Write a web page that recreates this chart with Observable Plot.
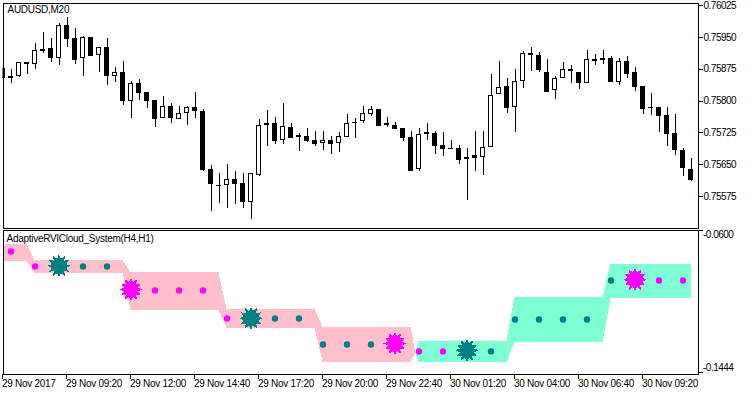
<!DOCTYPE html>
<html>
<head>
<meta charset="utf-8">
<script src="https://cdn.jsdelivr.net/npm/d3@7"></script>
<script src="https://cdn.jsdelivr.net/npm/@observablehq/plot@0.6"></script>
<style>
html,body{margin:0;padding:0;background:#fff;}
#chart{position:relative;width:750px;height:394px;overflow:hidden;}
#chart svg{position:absolute;left:0;display:block;}
#chart svg rect,#chart svg line,#chart svg path{shape-rendering:crispEdges;}
#chart svg text{letter-spacing:-.28px;}
#chart svg [aria-label="y-axis tick label"] text{letter-spacing:-.5px;}
</style>
</head>
<body>
<div id="chart"></div>
<script>
const opens=[.75874,.75852,.75859,.75888,.75885,.75919,.75921,.759,.75977,.75944,.759,.75947,.75907,.75923,.75859,.75866,.75798,.75838,.75817,.75798,.75758,.75784,.75757,.7577,.75782,.75772,.75635,.75599,.756,.75612,.75602,.7556,.75625,.75745,.75744,.75706,.75734,.75716,.75715,.75704,.75699,.75704,.75699,.75715,.75746,.75751,.75767,.75777,.75745,.75741,.75732,.75711,.75639,.75723,.75722,.75692,.75686,.75685,.75661,.75668,.75666,.75691,.75815,.75831,.75784,.75845,.75909,.75904,.75866,.75824,.75852,.75871,.75866,.75842,.75896,.75898,.75897,.75843,.7589,.75864,.75831,.75783,.75782,.75763,.7572,.75682,.75637];
const highs=[.75874,.75872,.75889,.75888,.75934,.7596,.75946,.75981,.75995,.75969,.7595,.75947,.75923,.75946,.75879,.75891,.75846,.75849,.75817,.75798,.75809,.75794,.75785,.75785,.75818,.75778,.75647,.75628,.75648,.75632,.75627,.75627,.75754,.75776,.75759,.75794,.75745,.75721,.75735,.75726,.75726,.75714,.75724,.75766,.75757,.75787,.75785,.75777,.75759,.75747,.75732,.75728,.75733,.75745,.75726,.75724,.75705,.75693,.75686,.75726,.75726,.75861,.75891,.75851,.75872,.75915,.75924,.75913,.75896,.75856,.75889,.75882,.75866,.75917,.75908,.75917,.75905,.75898,.75905,.75877,.75831,.75816,.75782,.75783,.75768,.75686,.75662];
const lows=[.75852,.75839,.75855,.75862,.75872,.75912,.7589,.75883,.75926,.75886,.75857,.75906,.75865,.75836,.75843,.75789,.75758,.75801,.7578,.75737,.75758,.75746,.75754,.7574,.75758,.75633,.75539,.75558,.75546,.75554,.75546,.75519,.75621,.75692,.75697,.75697,.75711,.7568,.75702,.75692,.75683,.75673,.75678,.75714,.75711,.75745,.75763,.75741,.75737,.75733,.75704,.75634,.75633,.75706,.75673,.75669,.75685,.7565,.75565,.75633,.75624,.75688,.75815,.7577,.75724,.75829,.75869,.75865,.75821,.75803,.75852,.75839,.75827,.75839,.75883,.75884,.75844,.75836,.75853,.75822,.75768,.75765,.75725,.75692,.75671,.75621,.7561];
const closes=[.75852,.75855,.75888,.75885,.75918,.75917,.75901,.75977,.75944,.75896,.75947,.75906,.75923,.75859,.75866,.758,.75838,.75818,.758,.75757,.75784,.75759,.75767,.75782,.75776,.75636,.75604,.75598,.75612,.75604,.7556,.75626,.75739,.75743,.75705,.75737,.75712,.75714,.75705,.75698,.75704,.75698,.75713,.75744,.75748,.75767,.75777,.75741,.75743,.75733,.75712,.75634,.75718,.75721,.75693,.75686,.75685,.7566,.75665,.75665,.75689,.75811,.7583,.75783,.75843,.75909,.75907,.75871,.75821,.7585,.75871,.75869,.75842,.75895,.75894,.75896,.75844,.75892,.75863,.75833,.75781,.75782,.75764,.75722,.75684,.75641,.75613];
const priceTicks=[.76025,.7595,.75875,.758,.75725,.7565,.75575];

const pinkIndex=[0,3,4,15,16,27,28,39,40,51,51.62];
const pinkUpper=[-.0685,-.0685,-.078,-.078,-.0851,-.0851,-.107,-.107,-.1177,-.1177,-.1329];
const pinkLower=[-.0784,-.0784,-.0855,-.0855,-.1076,-.1076,-.1181,-.1181,-.1383,-.1383,-.1329];
const aquaIndex=[51.62,52,63,64,75,76,86];
const aquaUpper=[-.1329,-.126,-.126,-.0999,-.0999,-.0803,-.0803];
const aquaLower=[-.1329,-.1385,-.1385,-.1266,-.1266,-.1005,-.1005];

const signalIndex=[1,4,7,10,13,16,19,22,25,28,31,34,37,40,43,46,49,52,55,58,61,64,67,70,73,76,79,82,85];
const signalValue=[-.0726,-.0815,-.0812,-.0815,-.0815,-.0952,-.0958,-.0958,-.0958,-.1124,-.1122,-.1124,-.1124,-.1278,-.1278,-.1278,-.1272,-.1319,-.1319,-.1313,-.1319,-.113,-.113,-.113,-.113,-.0898,-.0894,-.0898,-.0898];
const signalKind=["down","down","up","up","up","down","down","down","down","down","up","up","up","up","up","up","down","down","down","up","up","up","up","up","up","up","down","down","down"];
const signalBig=[0,0,1,0,0,1,0,0,0,0,1,0,0,0,0,0,1,0,0,1,0,0,0,0,0,0,1,0,0];

const timeIndex=[0,8,16,24,32,40,48,56,64,72,80];
const timeLabels=["29 Nov 2017","29 Nov 09:20","29 Nov 12:00","29 Nov 14:40","29 Nov 17:20","29 Nov 20:00","29 Nov 22:40","30 Nov 01:20","30 Nov 04:00","30 Nov 06:40","30 Nov 09:20"];

const FONT="'Liberation Sans',sans-serif";
const candles=opens.map((o,i)=>({i,o,h:highs[i],l:lows[i],c:closes[i],up:closes[i]>o}));
const signals=signalIndex.map((i,k)=>({i,v:signalValue[k],kind:signalKind[k],big:signalBig[k]}));
const rows=(idx,a,b)=>idx.map((i,k)=>({i,a:a[k],b:b[k]}));
const colour=d=>d.kind==="up"?"#008080":"#ff00ff";

const star={draw(ctx,size){
  const R=Math.sqrt(size/Math.PI),r=R*0.66,n=12;
  for(let k=0;k<2*n;k++){
    const a=Math.PI*k/n-Math.PI/2,q=k%2?r:R;
    const x=q*Math.cos(a),y=q*Math.sin(a);
    k?ctx.lineTo(x,y):ctx.moveTo(x,y);
  }
  ctx.closePath();
}};

const xScale={type:"linear",domain:[0,86.875]};
const upperPanel=Plot.plot({
  width:750,height:229,marginLeft:2.5,marginRight:52.5,marginTop:2.5,marginBottom:1.5,
  style:{fontFamily:FONT,fontSize:"10px",color:"#000",background:"transparent"},
  x:{...xScale,axis:null},
  y:{domain:[.754991,.760301],axis:null},
  marks:[
    Plot.ruleX(candles,{x:"i",y1:"l",y2:"h",stroke:"#000",strokeWidth:1,clip:true}),
    Plot.rect(candles,{
      x1:d=>d.i-0.25,x2:d=>d.i+0.25,y1:"o",y2:"c",
      fill:d=>d.up?"#fff":"#000",stroke:"#000",strokeWidth:1,clip:true
    }),
    Plot.axisY({anchor:"right",ticks:priceTicks,tickSize:4,tickPadding:1.5,tickFormat:d=>d.toFixed(5),label:null,fontSize:10,fill:"#000",stroke:"#000",dy:0.5}),
    Plot.frame({stroke:"#000",strokeWidth:1}),
    Plot.text(["AUDUSD,M20"],{frameAnchor:"top-left",dx:4.5,dy:3,textAnchor:"start",lineAnchor:"top",fill:"#000",fontSize:10})
  ]
});
upperPanel.style.top="0px";

const lowerPanel=Plot.plot({
  width:750,height:165,marginLeft:2.5,marginRight:52.5,marginTop:.5,marginBottom:20.5,
  style:{fontFamily:FONT,fontSize:"10px",color:"#000",background:"transparent"},
  x:{...xScale,axis:null},
  y:{domain:[-.14529,-.05988],axis:null},
  marks:[
    Plot.areaY(rows(pinkIndex,pinkUpper,pinkLower),{x:"i",y1:"a",y2:"b",fill:"#ffc0cb",curve:"linear"}),
    Plot.areaY(rows(aquaIndex,aquaUpper,aquaLower),{x:"i",y1:"a",y2:"b",fill:"#7fffd4",curve:"linear"}),
    Plot.dot(signals.filter(d=>!d.big),{x:"i",y:"v",r:3.2,fill:colour,stroke:null}),
    Plot.dot(signals.filter(d=>d.big),{x:"i",y:"v",r:11.5,symbol:star,fill:colour,stroke:null}),
    Plot.axisX({anchor:"bottom",ticks:timeIndex,tickSize:5,tickPadding:1,textAnchor:"start",label:null,dx:-1,
      tickFormat:d=>timeLabels[timeIndex.indexOf(d)],fontSize:10,fill:"#000",stroke:"#000"}),
    Plot.axisY({anchor:"right",ticks:[-.06,-.1444],tickSize:4,tickFormat:()=>"",label:null,stroke:"#000"}),
    Plot.axisY({anchor:"right",ticks:[-.06],tickSize:0,tickPadding:5,tickFormat:d=>d.toFixed(4),label:null,dy:4.3,fontSize:10,fill:"#000"}),
    Plot.axisY({anchor:"right",ticks:[-.1444],tickSize:0,tickPadding:5,tickFormat:d=>d.toFixed(4),label:null,dy:-4.3,fontSize:10,fill:"#000"}),
    Plot.frame({stroke:"#000",strokeWidth:1}),
    Plot.text(["AdaptiveRVICloud_System(H4,H1)"],{frameAnchor:"top-left",dx:3.5,dy:4.5,textAnchor:"start",lineAnchor:"top",fill:"#000",fontSize:10})
  ]
});
lowerPanel.style.top="229px";

document.getElementById("chart").append(upperPanel,lowerPanel);
</script>
</body>
</html>
